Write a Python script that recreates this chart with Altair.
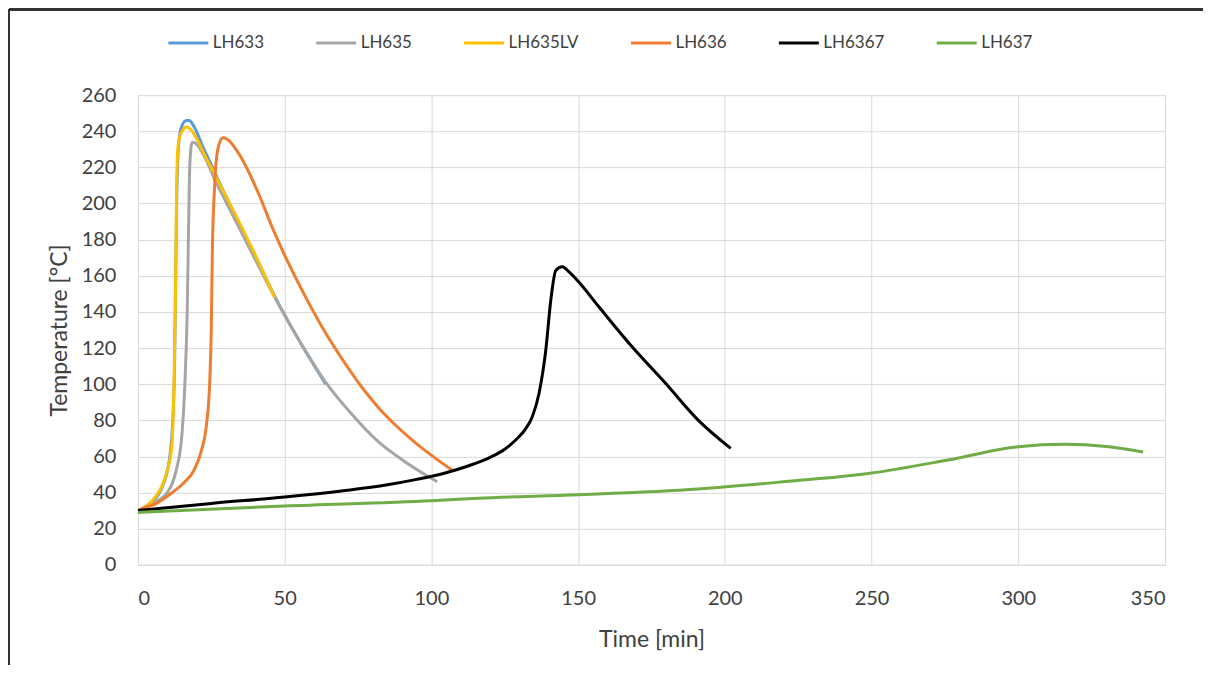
import altair as alt
import pandas as pd

# ---- data ----
lh633_x = [0, 4, 8, 10, 11.5, 12.5, 13.2, 14, 15, 16.5, 17.5, 19, 22, 26, 30, 35, 40, 47, 55, 64]
lh633_y = [30, 34, 42, 52, 70, 110, 200, 235, 243, 246, 246, 243, 232, 218, 204, 187.5, 171, 147.5, 124, 100]

lh635_x = [0, 5, 10, 13, 15, 16, 16.8, 17.3, 17.7, 18.5, 20, 23, 26, 30, 35, 40, 47, 55, 64, 72, 82, 92, 102]
lh635_y = [30, 34, 40, 52, 72, 100, 140, 190, 222, 234, 233, 225, 214, 201, 185, 169, 147, 124, 101, 85, 68, 56, 46]

lh635lv_x = [0, 4, 8, 10, 11.5, 12.3, 12.8, 13.2, 13.7, 15, 16.6, 18, 20, 23, 25.6, 30, 34.7, 40, 46.6]
lh635lv_y = [30, 34, 43, 52, 65, 100, 150, 210, 232, 240, 242.4, 241, 236, 226, 218, 204, 189, 171.5, 148]

lh636_x = [0, 3, 6.4, 10, 15.4, 19, 21.7, 23.4, 24.5, 25, 25.4, 26, 26.5, 27.5, 29, 31, 33, 35, 37, 41, 46, 50, 55, 63, 70, 76, 82, 88, 95, 101, 107]
lh636_y = [30, 32, 34, 38, 45, 52, 63.6, 78, 102, 130, 176, 205, 220, 232, 236.5, 235, 231, 226, 220, 206, 186, 171.5, 155, 131, 113, 99, 87, 77, 67, 59.5, 52.5]

lh6367_x = [0, 25, 50, 70, 85, 95, 105, 113, 120, 125, 129, 132, 134.4, 136.7, 139, 140.7, 142.4, 144.6, 147, 150, 157, 168.4, 179.8, 191, 202]
lh6367_y = [30, 34, 37.5, 41, 44.3, 47.3, 51, 55, 59.5, 64, 69.5, 75, 82, 95, 119, 146.6, 163, 165, 162, 157, 143, 120.7, 100.5, 80, 64.5]

lh637_x = [0, 50, 100, 116, 150, 191, 220, 249.5, 276, 300, 316, 330, 342.5]
lh637_y = [29, 32.6, 35.5, 36.9, 38.8, 42, 46, 50.7, 58, 65.4, 66.7, 65.5, 62.5]

series_names = ["LH633", "LH635", "LH635LV", "LH636", "LH6367", "LH637"]
series_colors = ["#5B9BD5", "#A5A5A5", "#FFC000", "#ED7D31", "#000000", "#70AD47"]
series_data = [
    (lh633_x, lh633_y), (lh635_x, lh635_y), (lh635lv_x, lh635lv_y),
    (lh636_x, lh636_y), (lh6367_x, lh6367_y), (lh637_x, lh637_y),
]

x_ticks = [0, 50, 100, 150, 200, 250, 300, 350]
y_ticks = list(range(0, 261, 20))

rows = []
for name, (xs, ys) in zip(series_names, series_data):
    for i, (a, b) in enumerate(zip(xs, ys)):
        rows.append({"series": name, "time": a, "temp": b, "idx": i})
df = pd.DataFrame(rows)

FONT = "Lato"
TXT = "#404040"

lines = alt.Chart(df).mark_line(interpolate="monotone", strokeWidth=3, clip=True).encode(
    x=alt.X("time:Q", scale=alt.Scale(domain=[0, 350], nice=False),
            axis=alt.Axis(title="Time [min]", values=x_ticks, grid=True, gridColor="#d9d9d9",
                          domainColor="#d9d9d9", ticks=False, labelPadding=24,
                          labelFontSize=20, labelColor=TXT, labelFont=FONT,
                          titleFont=FONT, titleFontSize=23, titleFontWeight="normal",
                          titleColor=TXT, titlePadding=20)),
    y=alt.Y("temp:Q", scale=alt.Scale(domain=[0, 260], nice=False),
            axis=alt.Axis(title="Temperature [°C]", values=y_ticks, grid=True, gridColor="#d9d9d9",
                          domain=False, ticks=False, labelPadding=22,
                          labelFontSize=20, labelColor=TXT, labelFont=FONT,
                          titleFont=FONT, titleFontSize=23, titleFontWeight="normal",
                          titleColor=TXT, titlePadding=10)),
    color=alt.Color("series:N",
                    scale=alt.Scale(domain=series_names, range=series_colors),
                    legend=alt.Legend(title=None, orient="none", direction="horizontal",
                                      legendX=29, legendY=-74, symbolType="stroke",
                                      symbolSize=1600, symbolStrokeWidth=3,
                                      labelFontSize=17, labelFont=FONT, labelColor=TXT,
                                      labelOffset=3, columnPadding=45, padding=0)),
    order="idx:Q",
)

top_border = alt.Chart(df).mark_rule(color="#333333", strokeWidth=2, clip=False).encode(
    x=alt.value(-129), x2=alt.value(1066), y=alt.value(-86))
left_border = alt.Chart(df).mark_rule(color="#333333", strokeWidth=2, clip=False).encode(
    x=alt.value(-129), y=alt.value(-86), y2=alt.value(580))

chart = alt.layer(lines, top_border, left_border).properties(
    width=1028, height=470,
    autosize=alt.AutoSizeParams(type="none"),
    padding={"left": 130, "top": 87, "right": 38, "bottom": 100},
    background="white",
).configure_view(stroke=None)

chart.save("out.html", embed_options={"renderer": "svg", "actions": False})
